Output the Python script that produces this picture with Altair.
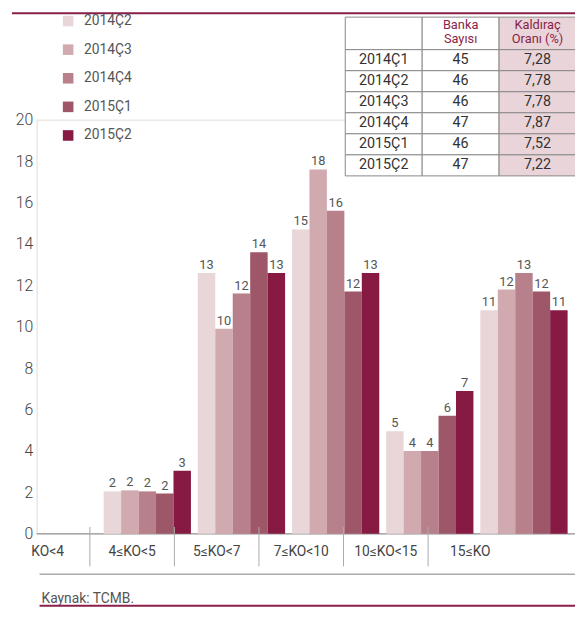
import altair as alt
import pandas as pd

# ---------------- data ----------------
categories = ["KO<4", "4≤KO<5", "5≤KO<7", "7≤KO<10", "10≤KO<15", "15≤KO"]
series = ["2014Ç2", "2014Ç3", "2014Ç4", "2015Ç1", "2015Ç2"]
colors = ["#e9d6d9", "#d1aab0", "#b7808a", "#9e5768", "#861a43"]

v_2014q2 = [None, 2.05, 12.6, 14.7, 4.95, 10.8]
v_2014q3 = [None, 2.1, 9.9, 17.6, 4.0, 11.8]
v_2014q4 = [None, 2.05, 11.6, 15.6, 4.0, 12.6]
v_2015q1 = [None, 1.95, 13.6, 11.7, 5.7, 11.7]
v_2015q2 = [None, 3.05, 12.6, 12.6, 6.9, 10.8]
series_values = [v_2014q2, v_2014q3, v_2014q4, v_2015q1, v_2015q2]

y_ticks = [0, 2, 4, 6, 8, 10, 12, 14, 16, 18, 20]

table_quarters = ["2014Ç1", "2014Ç2", "2014Ç3", "2014Ç4", "2015Ç1", "2015Ç2"]
table_banka = [45, 46, 46, 47, 46, 47]
table_kaldirac = [7.28, 7.78, 7.78, 7.87, 7.52, 7.22]
table_columns = ["c0", "c1", "c2"]
table_headers = ["", "Banka\nSayısı", "Kaldıraç\nOranı (%)"]

source_text = "Kaynak: TCMB."

FONT = "Roboto"
MAROON = "#8a1f49"
GRAY_TXT = "#555555"

# ---------------- tables ----------------
rows = []
for s, vals in zip(series, series_values):
    for c, v in zip(categories, vals):
        if v is not None:
            rows.append({"cat": c, "series": s, "value": v})
bar_df = pd.DataFrame(rows)

cat_df = pd.DataFrame({"cat": categories})
sep_df = pd.DataFrame({"cat": categories[1:]})

head_df = pd.DataFrame({"row": ["h"] * 3, "col": table_columns, "text": table_headers})
body_rows = []
for q, b, k in zip(table_quarters, table_banka, table_kaldirac):
    body_rows.append({"row": q, "col": "c0", "text": q})
    body_rows.append({"row": q, "col": "c1", "text": str(b)})
    body_rows.append({"row": q, "col": "c2", "text": f"{k:.2f}".replace(".", ",")})
body_df = pd.DataFrame(body_rows)

one = pd.DataFrame({"t": [source_text]})

W, H = 546, 420

# ---------------- scales ----------------
x_bar_scale = alt.Scale(domain=categories, range=[-27.5, 538.5], paddingInner=0.073, paddingOuter=0)
xoff_scale = alt.Scale(domain=series, paddingInner=0, paddingOuter=0)
y_scale = alt.Scale(domain=[0, 20], nice=False, zero=True)
x_lab_scale = alt.Scale(domain=categories, range=[-31.75, 482.75], paddingInner=0, paddingOuter=0)
tab_x_scale = alt.Scale(domain=table_columns, range=[313, 547], paddingInner=0, paddingOuter=0)
tab_head_y = alt.Scale(domain=["h"], range=[-104, -71], paddingInner=0, paddingOuter=0)
tab_body_y = alt.Scale(domain=table_quarters, range=[-71, 57], paddingInner=0, paddingOuter=0)

# ---------------- layers ----------------
top_rule = alt.Chart(one).mark_rule(color=MAROON, strokeWidth=2).encode(
    x=alt.value(-25), x2=alt.value(W), y=alt.value(-108)
)
base_rule = alt.Chart(one).mark_rule(color="#aaaaaa", strokeWidth=1.5).encode(
    x=alt.value(0), x2=alt.value(W), y=alt.value(H)
)

bars = alt.Chart(bar_df).mark_bar(strokeWidth=0).encode(
    x=alt.X("cat:N", scale=x_bar_scale, axis=None, sort=categories),
    xOffset=alt.XOffset("series:N", scale=xoff_scale, sort=series),
    y=alt.Y(
        "value:Q",
        scale=y_scale,
        axis=alt.Axis(
            values=y_ticks, title=None, domain=False, ticks=False, grid=False,
            labelFontSize=16, labelColor="#444444", labelPadding=4, labelFont=FONT,
            labelFontWeight=300,
        ),
    ),
    color=alt.Color(
        "series:N",
        scale=alt.Scale(domain=series, range=colors),
        legend=alt.Legend(
            orient="none", legendX=25, legendY=-107, title=None, symbolType="square",
            symbolSize=115, symbolStrokeWidth=0, labelFontSize=14, labelColor=GRAY_TXT,
            labelFont=FONT, rowPadding=15, padding=0, labelOffset=9, direction="vertical",
        ),
    ),
)

bar_labels = alt.Chart(bar_df).mark_text(
    baseline="alphabetic", dy=-4, fontSize=13, color=GRAY_TXT, font=FONT
).encode(
    x=alt.X("cat:N", scale=x_bar_scale, axis=None, sort=categories),
    xOffset=alt.XOffset("series:N", scale=xoff_scale, sort=series),
    y=alt.Y("value:Q", scale=y_scale, axis=None),
    text=alt.Text("value:Q", format=".0f"),
)

separators = alt.Chart(sep_df).mark_rule(color="#aaaaaa", strokeWidth=1).encode(
    x=alt.X("cat:N", scale=x_lab_scale, axis=None, bandPosition=0),
    y=alt.value(413),
    y2=alt.value(453),
)

cat_labels = alt.Chart(cat_df).mark_text(
    fontSize=14, color="#444444", font=FONT, baseline="middle"
).encode(
    x=alt.X("cat:N", scale=x_lab_scale, axis=None),
    y=alt.value(438),
    text="cat:N",
)

low_rule = alt.Chart(one).mark_rule(color="#aaaaaa", strokeWidth=1.5).encode(
    x=alt.value(3), x2=alt.value(W), y=alt.value(461)
)
source = alt.Chart(one).mark_text(
    align="left", baseline="middle", fontSize=14, color=GRAY_TXT, font=FONT
).encode(x=alt.value(5), y=alt.value(486), text="t:N")
bottom_rule = alt.Chart(one).mark_rule(color=MAROON, strokeWidth=2).encode(
    x=alt.value(3), x2=alt.value(W), y=alt.value(493)
)

pink_cond = alt.condition(alt.datum.col == "c2", alt.value("#e9d5d9"), alt.value("#ffffff"))

head_rect = alt.Chart(head_df).mark_rect(stroke="#888888", strokeWidth=1).encode(
    x=alt.X("col:N", scale=tab_x_scale, axis=None),
    y=alt.Y("row:N", scale=tab_head_y, axis=None),
    fill=pink_cond,
)
head_text = alt.Chart(head_df).mark_text(
    fontSize=13, color=MAROON, font=FONT, lineBreak="\n", lineHeight=13.5,
    baseline="middle", dy=-8
).encode(
    x=alt.X("col:N", scale=tab_x_scale, axis=None),
    y=alt.Y("row:N", scale=tab_head_y, axis=None),
    text="text:N",
)
body_rect = alt.Chart(body_df).mark_rect(stroke="#888888", strokeWidth=1).encode(
    x=alt.X("col:N", scale=tab_x_scale, axis=None),
    y=alt.Y("row:N", scale=tab_body_y, axis=None, sort=table_quarters),
    fill=pink_cond,
)
body_text = alt.Chart(body_df).mark_text(
    fontSize=14.5, color="#333333", font=FONT, baseline="middle"
).encode(
    x=alt.X("col:N", scale=tab_x_scale, axis=None),
    y=alt.Y("row:N", scale=tab_body_y, axis=None, sort=table_quarters),
    text="text:N",
)

chart = alt.layer(
    top_rule, base_rule, bars, bar_labels, separators, cat_labels,
    low_rule, source, bottom_rule,
    head_rect, head_text, body_rect, body_text,
).resolve_scale(
    x="independent", y="independent", color="independent"
).properties(
    width=W, height=H,
    autosize=alt.AutoSizeParams(type="none"),
    padding={"left": 29, "top": 109, "right": 0, "bottom": 74},
).configure_view(stroke=None).configure(font=FONT)

chart.save("out.html", embed_options={"renderer": "svg", "actions": False})
